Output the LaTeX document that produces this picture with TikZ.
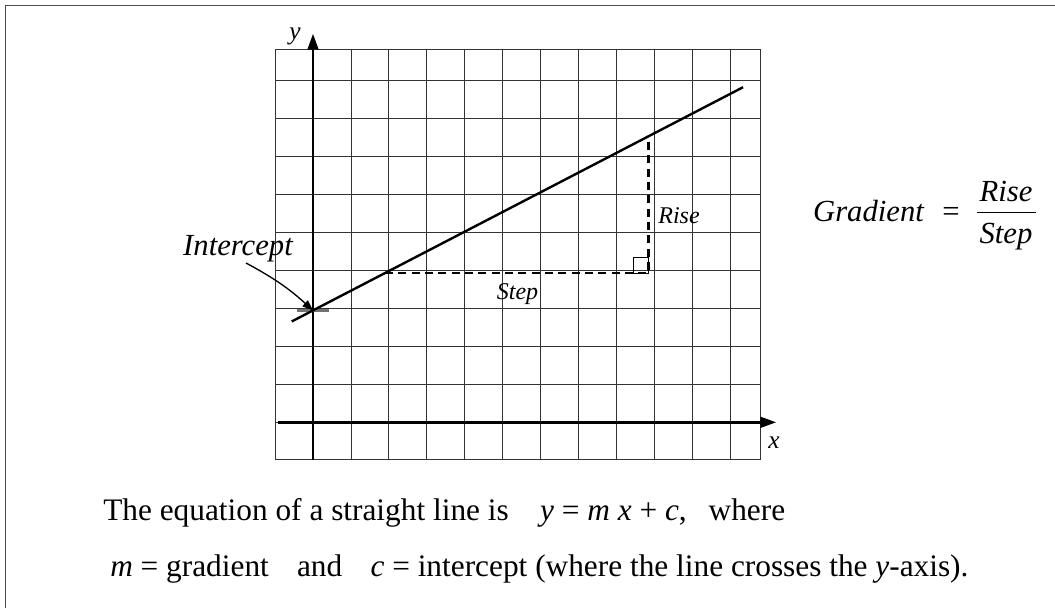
\documentclass[tikz,border=0pt]{standalone}
\usepackage{fontspec}
\setmainfont{Liberation Serif}
\usetikzlibrary{arrows.meta}
\begin{document}
\begin{tikzpicture}[x=0.75pt,y=-0.75pt,
  gridline/.style={black!80, line width=0.65pt},
  axisline/.style={line width=2pt, -{Triangle[length=12pt,width=8pt]}},
  graphline/.style={line width=1.8pt},
  dashline/.style={line width=2pt, dash pattern=on 6pt off 4pt},
  ticklbl/.style={font=\fontsize{19}{21}\selectfont\itshape, inner sep=0pt, anchor=base},
  lbl/.style={font=\fontsize{18}{20}\selectfont\itshape, inner sep=0pt, anchor=base},
  biglbl/.style={font=\fontsize{23}{25}\selectfont\itshape, inner sep=0pt, anchor=base},
  bodytext/.style={font=\fontsize{23.5}{26}\selectfont, inner sep=0pt, anchor=base west},
]
\useasboundingbox (0,0) rectangle (1055,608);
\coordinate (fb) at (5.5,608);
\coordinate (fc) at (5.5,5.5);
\coordinate (fr) at (1055,5.5);
\draw[black!70, line width=1.1pt] (fb) -- (fc) -- (fr);

\begin{scope}[shift={(234.75pt,-316.725pt)}, x=27.975pt, y=27.975pt]
  \coordinate (g1) at (-1,-1);
  \coordinate (g2) at (12,10);
  \draw[gridline] (-1.01,-1.01) grid (12.01,10.01);
  \draw[gridline] (g1) rectangle (g2);
  % axes
  \coordinate (ybot) at (0,-1);
  \coordinate (ytop) at (0,10.42);
  \coordinate (xl) at (-0.93,0);
  \coordinate (xr) at (12.42,0);
  \draw[axisline] (ybot) -- (ytop);
  \draw[axisline] (xl) -- (xr);
  % intercept tick
  \coordinate (I) at (0,3);
  \coordinate (tl) at (-0.44,3);
  \coordinate (tr) at (0.43,3);
  \draw[black!55, line width=2pt] (tl) -- (tr);
  % graph line
  \coordinate (L1) at (-0.57,2.704);
  \coordinate (L2) at (11.53,8.984);
  \draw[graphline] (L1) -- (L2);
  % step and rise
  \coordinate (S0) at (1.93,4);
  \coordinate (C) at (9,4);
  \coordinate (R1) at (9,7.67);
  \draw[dashline] (S0) -- (C) -- (R1);
  \coordinate (sq1) at (8.59,4);
  \coordinate (sq2) at (9,4.41);
  \draw[line width=0.8pt] (sq1) rectangle (sq2);
\end{scope}

% axis labels
\node[ticklbl] (ylab) at (295,39) {y};
\node[ticklbl] (xlab) at (774,448) {x};
% graph labels
\node[lbl] (rise) at (679,223) {Rise};
\node[lbl] (step) at (517.5,299) {Step};
\node[biglbl] (icpt) at (238,255) {Intercept};
\coordinate (iarr) at (246,263);
\draw[line width=1pt, -{Triangle[length=8pt,width=6pt]}] (iarr) to[bend left=7] (I);

% gradient formula
\node[biglbl] (grad) at (868.5,221.7) {Gradient};
\node[font=\fontsize{23}{25}\selectfont, inner sep=0pt, anchor=base] (eq) at (951,221.7) {=};
\node[biglbl] (rise2) at (1006,201.7) {Rise};
\node[biglbl] (step2) at (1006,243.3) {Step};
\coordinate (bar1) at (977,212.7);
\coordinate (bar2) at (1036,212.7);
\draw[line width=1.1pt] (bar1) -- (bar2);

% bottom text
\node[bodytext] (line1) at (103,520) {The equation of a straight line is\hspace{1em}\textit{y} = \textit{m} \textit{x} + \textit{c},\hspace{0.7em}where};
\node[bodytext] (line2) at (110,576) {\textit{m} = gradient\hspace{0.9em}and\hspace{0.9em}\textit{c} = intercept (where the line crosses the \textit{y}-axis).};
\end{tikzpicture}
\end{document}
